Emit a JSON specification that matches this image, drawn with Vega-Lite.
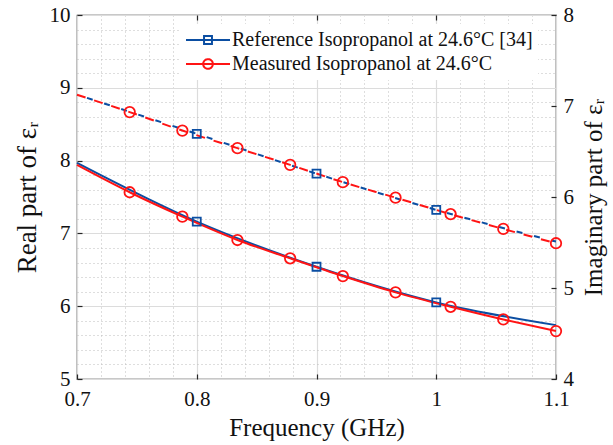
{
  "$schema": "https://vega.github.io/schema/vega-lite/v6.json",
  "width": 479,
  "height": 364,
  "autosize": {"type": "none"},
  "padding": {"left": 77, "top": 15, "right": 57, "bottom": 66},
  "background": "white",
  "config": {
    "view": {"stroke": "#262626", "strokeWidth": 1.2},
    "font": "Liberation Serif",
    "axis": {
      "labelFont": "Liberation Serif",
      "titleFont": "Liberation Serif",
      "labelColor": "#111111",
      "titleColor": "#111111",
      "labelFontSize": 21,
      "titleFontSize": 25,
      "titleFontWeight": "normal",
      "domain": false,
      "tickColor": "#262626",
      "tickWidth": 1.2,
      "labelOverlap": false,
      "labelFlush": false
    }
  },
  "datasets": {
    "realCurve": [
      {"freq": 0.7, "value": 7.968, "series": "Reference Isopropanol at 24.6°C [34]"},
      {"freq": 0.8, "value": 7.161, "series": "Reference Isopropanol at 24.6°C [34]"},
      {"freq": 0.9, "value": 6.542, "series": "Reference Isopropanol at 24.6°C [34]"},
      {"freq": 1.0, "value": 6.052, "series": "Reference Isopropanol at 24.6°C [34]"},
      {"freq": 1.1, "value": 5.74, "series": "Reference Isopropanol at 24.6°C [34]"},
      {"freq": 0.7, "value": 7.94, "series": "Measured Isopropanol at 24.6°C"},
      {"freq": 0.744, "value": 7.565, "series": "Measured Isopropanol at 24.6°C"},
      {"freq": 0.788, "value": 7.23, "series": "Measured Isopropanol at 24.6°C"},
      {"freq": 0.834, "value": 6.909, "series": "Measured Isopropanol at 24.6°C"},
      {"freq": 0.878, "value": 6.658, "series": "Measured Isopropanol at 24.6°C"},
      {"freq": 0.922, "value": 6.414, "series": "Measured Isopropanol at 24.6°C"},
      {"freq": 0.966, "value": 6.19, "series": "Measured Isopropanol at 24.6°C"},
      {"freq": 1.012, "value": 5.992, "series": "Measured Isopropanol at 24.6°C"},
      {"freq": 1.056, "value": 5.818, "series": "Measured Isopropanol at 24.6°C"},
      {"freq": 1.1, "value": 5.658, "series": "Measured Isopropanol at 24.6°C"}
    ],
    "realMarkers": [
      {"freq": 0.8, "value": 7.161, "series": "Reference Isopropanol at 24.6°C [34]"},
      {"freq": 0.9, "value": 6.542, "series": "Reference Isopropanol at 24.6°C [34]"},
      {"freq": 1.0, "value": 6.052, "series": "Reference Isopropanol at 24.6°C [34]"},
      {"freq": 0.744, "value": 7.565, "series": "Measured Isopropanol at 24.6°C"},
      {"freq": 0.788, "value": 7.23, "series": "Measured Isopropanol at 24.6°C"},
      {"freq": 0.834, "value": 6.909, "series": "Measured Isopropanol at 24.6°C"},
      {"freq": 0.878, "value": 6.658, "series": "Measured Isopropanol at 24.6°C"},
      {"freq": 0.922, "value": 6.414, "series": "Measured Isopropanol at 24.6°C"},
      {"freq": 0.966, "value": 6.19, "series": "Measured Isopropanol at 24.6°C"},
      {"freq": 1.012, "value": 5.992, "series": "Measured Isopropanol at 24.6°C"},
      {"freq": 1.056, "value": 5.818, "series": "Measured Isopropanol at 24.6°C"},
      {"freq": 1.1, "value": 5.658, "series": "Measured Isopropanol at 24.6°C"}
    ],
    "imagCurve": [
      {"freq": 0.7, "value": 7.125, "series": "Reference Isopropanol at 24.6°C [34]"},
      {"freq": 0.8, "value": 6.694, "series": "Reference Isopropanol at 24.6°C [34]"},
      {"freq": 0.9, "value": 6.256, "series": "Reference Isopropanol at 24.6°C [34]"},
      {"freq": 1.0, "value": 5.858, "series": "Reference Isopropanol at 24.6°C [34]"},
      {"freq": 1.1, "value": 5.51, "series": "Reference Isopropanol at 24.6°C [34]"},
      {"freq": 0.7, "value": 7.123, "series": "Measured Isopropanol at 24.6°C"},
      {"freq": 0.744, "value": 6.933, "series": "Measured Isopropanol at 24.6°C"},
      {"freq": 0.788, "value": 6.73, "series": "Measured Isopropanol at 24.6°C"},
      {"freq": 0.834, "value": 6.537, "series": "Measured Isopropanol at 24.6°C"},
      {"freq": 0.878, "value": 6.353, "series": "Measured Isopropanol at 24.6°C"},
      {"freq": 0.922, "value": 6.163, "series": "Measured Isopropanol at 24.6°C"},
      {"freq": 0.966, "value": 5.993, "series": "Measured Isopropanol at 24.6°C"},
      {"freq": 1.012, "value": 5.811, "series": "Measured Isopropanol at 24.6°C"},
      {"freq": 1.056, "value": 5.649, "series": "Measured Isopropanol at 24.6°C"},
      {"freq": 1.1, "value": 5.492, "series": "Measured Isopropanol at 24.6°C"}
    ],
    "imagMarkers": [
      {"freq": 0.8, "value": 6.694, "series": "Reference Isopropanol at 24.6°C [34]"},
      {"freq": 0.9, "value": 6.256, "series": "Reference Isopropanol at 24.6°C [34]"},
      {"freq": 1.0, "value": 5.858, "series": "Reference Isopropanol at 24.6°C [34]"},
      {"freq": 0.744, "value": 6.933, "series": "Measured Isopropanol at 24.6°C"},
      {"freq": 0.788, "value": 6.73, "series": "Measured Isopropanol at 24.6°C"},
      {"freq": 0.834, "value": 6.537, "series": "Measured Isopropanol at 24.6°C"},
      {"freq": 0.878, "value": 6.353, "series": "Measured Isopropanol at 24.6°C"},
      {"freq": 0.922, "value": 6.163, "series": "Measured Isopropanol at 24.6°C"},
      {"freq": 0.966, "value": 5.993, "series": "Measured Isopropanol at 24.6°C"},
      {"freq": 1.012, "value": 5.811, "series": "Measured Isopropanol at 24.6°C"},
      {"freq": 1.056, "value": 5.649, "series": "Measured Isopropanol at 24.6°C"},
      {"freq": 1.1, "value": 5.492, "series": "Measured Isopropanol at 24.6°C"}
    ]
  },
  "layer": [
    {
      "encoding": {
        "x": {
          "field": "freq", "type": "quantitative",
          "scale": {"domain": [0.7, 1.1], "nice": false, "zero": false},
          "axis": {
            "orient": "bottom",
            "title": "Frequency (GHz)",
            "values": [0.7,0.72,0.74,0.76,0.78,0.8,0.82,0.84,0.86,0.88,0.9,0.92,0.94,0.96,0.98,1,1.02,1.04,1.06,1.08,1.1],
            "format": "~g",
            "labelOverlap": false,
            "labelFlush": false,
            "labelExpr": "abs(datum.value*10 - round(datum.value*10)) < 1e-6 ? datum.label : ''",
            "grid": true,
            "gridColor": {"condition": {"test": "abs(datum.value*10 - round(datum.value*10)) < 1e-6", "value": "#DCDCDC"}, "value": "#BDBDBD"},
            "gridDash": {"condition": {"test": "abs(datum.value*10 - round(datum.value*10)) < 1e-6", "value": []}, "value": [1, 3]},
            "gridWidth": {"condition": {"test": "abs(datum.value*10 - round(datum.value*10)) < 1e-6", "value": 1.2}, "value": 1},
            "tickOpacity": {"condition": {"test": "abs(datum.value*10 - round(datum.value*10)) < 1e-6", "value": 1}, "value": 0},
            "tickSize": -5,
            "labelPadding": 14,
            "titlePadding": 6
          }
        },
        "y": {
          "field": "value", "type": "quantitative",
          "scale": {"domain": [5, 10], "nice": false, "zero": false},
          "axis": {
            "orient": "left",
            "title": "Real part of εᵣ",
            "titleFontSize": 27,
            "values": [5,5.2,5.4,5.6,5.8,6,6.2,6.4,6.6,6.8,7,7.2,7.4,7.6,7.8,8,8.2,8.4,8.6,8.8,9,9.2,9.4,9.6,9.8,10],
            "format": "~g",
            "labelOverlap": false,
            "labelExpr": "abs(datum.value - round(datum.value)) < 1e-6 ? datum.label : ''",
            "grid": true,
            "gridColor": {"condition": {"test": "abs(datum.value - round(datum.value)) < 1e-6", "value": "#DCDCDC"}, "value": "#BDBDBD"},
            "gridDash": {"condition": {"test": "abs(datum.value - round(datum.value)) < 1e-6", "value": []}, "value": [1, 3]},
            "gridWidth": {"condition": {"test": "abs(datum.value - round(datum.value)) < 1e-6", "value": 1.2}, "value": 1},
            "tickOpacity": {"condition": {"test": "abs(datum.value - round(datum.value)) < 1e-6", "value": 1}, "value": 0},
            "tickSize": -5,
            "labelPadding": 12,
            "titlePadding": 8
          }
        },
        "color": {
          "field": "series", "type": "nominal",
          "scale": {"domain": ["Reference Isopropanol at 24.6°C [34]", "Measured Isopropanol at 24.6°C"], "range": ["#0B4EA2", "#FF1414"]},
          "legend": {
            "title": null,
            "orient": "none",
            "legendX": 103,
            "legendY": 9,
            "labelFont": "Liberation Serif",
            "labelFontSize": 20,
            "labelColor": "#111111",
            "labelLimit": 500,
            "symbolSize": 1936,
            "symbolStrokeWidth": 2,
            "symbolFillColor": "transparent",
            "clipHeight": 22,
            "rowPadding": 2,
            "labelOffset": 1,
            "padding": 5,
            "fillColor": "white",
            "encode": {
              "symbols": {
                "update": {
                  "shape": {"signal": "datum.value == 'Measured Isopropanol at 24.6°C' ? 'M-1,0H1M-0.22,0A0.22,0.22 0 1,0 0.22,0A0.22,0.22 0 1,0 -0.22,0Z' : 'M-1,0H1M-0.18,-0.18H0.18V0.18H-0.18Z'"},
                  "fill": {"value": "transparent"},
                  "strokeDash": {"value": [1, 0]},
                  "opacity": {"value": 1}
                }
              }
            }
          }
        }
      },
      "layer": [
        {"data": {"name": "realCurve"}, "mark": {"type": "line", "strokeWidth": 2, "interpolate": "monotone"}},
        {"data": {"name": "realMarkers"}, "transform": [{"filter": "datum.series == 'Reference Isopropanol at 24.6°C [34]'"}], "mark": {"type": "point", "shape": "square", "filled": false, "size": 64, "strokeWidth": 1.8, "opacity": 1}},
        {"data": {"name": "realMarkers"}, "transform": [{"filter": "datum.series == 'Measured Isopropanol at 24.6°C'"}], "mark": {"type": "point", "shape": "circle", "filled": false, "size": 110, "strokeWidth": 1.8, "opacity": 1}}
      ]
    },
    {
      "encoding": {
        "x": {
          "field": "freq", "type": "quantitative",
          "scale": {"domain": [0.7, 1.1], "nice": false, "zero": false},
          "axis": {"orient": "top", "values": [0.8, 0.9, 1.0], "labels": false, "grid": false, "title": null, "tickSize": -5}
        },
        "y": {
          "field": "value", "type": "quantitative",
          "scale": {"domain": [4, 8], "nice": false, "zero": false},
          "axis": {
            "orient": "right",
            "title": "Imaginary part of εᵣ",
            "titleAngle": 270,
            "titleBaseline": "top",
            "values": [4, 5, 6, 7, 8],
            "grid": false,
            "tickSize": -5,
            "labelPadding": 12,
            "titlePadding": 8
          }
        },
        "color": {"field": "series", "type": "nominal"}
      },
      "layer": [
        {"data": {"name": "imagCurve"}, "transform": [{"filter": "datum.series == 'Reference Isopropanol at 24.6°C [34]'"}], "mark": {"type": "line", "strokeWidth": 2, "interpolate": "monotone", "strokeDash": [6, 12], "strokeDashOffset": 7.5}},
        {"data": {"name": "imagCurve"}, "transform": [{"filter": "datum.series == 'Measured Isopropanol at 24.6°C'"}], "mark": {"type": "line", "strokeWidth": 2, "interpolate": "monotone", "strokeDash": [9, 9]}},
        {"data": {"name": "imagMarkers"}, "transform": [{"filter": "datum.series == 'Reference Isopropanol at 24.6°C [34]'"}], "mark": {"type": "point", "shape": "square", "filled": false, "size": 64, "strokeWidth": 1.8, "opacity": 1}},
        {"data": {"name": "imagMarkers"}, "transform": [{"filter": "datum.series == 'Measured Isopropanol at 24.6°C'"}], "mark": {"type": "point", "shape": "circle", "filled": false, "size": 110, "strokeWidth": 1.8, "opacity": 1}}
      ]
    }
  ],
  "resolve": {"scale": {"y": "independent"}, "axis": {"x": "independent"}}
}
